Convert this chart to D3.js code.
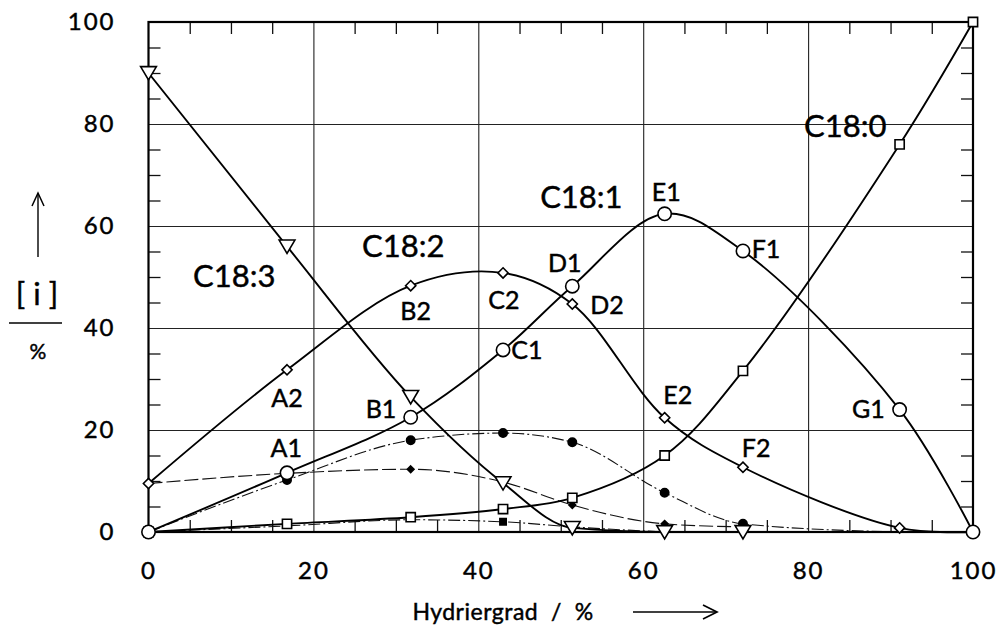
<!DOCTYPE html>
<html><head><meta charset="utf-8">
<script src="https://cdn.jsdelivr.net/npm/d3@7"></script>
<style>
html,body{margin:0;padding:0;background:#fff;}
svg{display:block;font-family:Lato,"Open Sans",sans-serif;}
</style></head>
<body><svg id="chart" width="1005" height="629"></svg>
<script>
// ---- data ----
const hydrierGrad = [0, 16.8, 31.8, 43, 51.4, 62.6, 72.1, 91.1, 100];
const c183 = [90, 56, 26.5, 9.6, 0.8, 0, 0, 0, 0];
const c182 = [9.5, 31.8, 48.3, 50.8, 44.7, 22.4, 12.7, 0.8, 0];
const c181 = [0, 11.6, 22.5, 35.7, 48.2, 62.4, 55.1, 24.0, 0];
const c180 = [0, 1.6, 2.9, 4.5, 6.7, 15.0, 31.6, 76, 100];
// secondary (thin dashed) series
const xFilledCircle = [0, 16.8, 31.8, 43, 51.4, 62.6, 72.1, 91.1];
const filledCircle = [0, 10.2, 18.0, 19.4, 17.6, 7.7, 1.6, 0];
const xFilledDiamond = [0, 16.8, 31.8, 43, 51.4, 62.6, 72.1];
const filledDiamond = [9.5, 11.5, 12.3, 9.8, 5.3, 1.6, 1.0];
const xFilledSquare = [0, 16.8, 31.8, 43, 51.4, 62.6];
const filledSquare = [0, 1.2, 2.4, 2.0, 1.0, 0];
const filledCircleMarkers = [16.8, 31.8, 43, 51.4, 62.6, 72.1];
const filledDiamondMarkers = [31.8, 51.4, 62.6];
const filledSquareMarkers = [43];
const xTicks = [0, 20, 40, 60, 80, 100];
const yTicks = [0, 20, 40, 60, 80, 100];
const seriesLabels = [
  {t:"C18:3", x:10.4, y:50.4}, {t:"C18:2", x:30.9, y:56.3},
  {t:"C18:1", x:52.5, y:65.9}, {t:"C18:0", x:84.5, y:79.8}
];
const pointLabels = [
  {t:"A1", x:16.7, y:16.7}, {t:"A2", x:16.8, y:26.5},
  {t:"B1", x:28.2, y:24.3}, {t:"B2", x:32.4, y:43.5},
  {t:"C1", x:45.9, y:35.9}, {t:"C2", x:43.1, y:45.7},
  {t:"D1", x:50.5, y:52.9}, {t:"D2", x:55.6, y:44.7},
  {t:"E1", x:62.8, y:66.9}, {t:"E2", x:64.2, y:27.1},
  {t:"F1", x:74.9, y:55.7}, {t:"F2", x:73.7, y:16.7},
  {t:"G1", x:87.3, y:24.3}
];

// ---- layout ----
const svg = d3.select("#chart");
const X0 = 148.5, X1 = 973, Y0 = 532, Y1 = 22;
const x = d3.scaleLinear().domain([0,100]).range([X0,X1]);
const y = d3.scaleLinear().domain([0,100]).range([Y0,Y1]);
svg.append("rect").attr("width",1005).attr("height",629).attr("fill","#fff");
const FONT = "Lato,sans-serif";

// gridlines
const grid = svg.append("g").attr("transform",`translate(0,${Y0})`)
  .call(d3.axisBottom(x).tickValues([20,40,60,80]).tickSize(-(Y0-Y1)).tickFormat(""));
grid.select(".domain").remove();
grid.selectAll("line").attr("stroke","#222").attr("stroke-width",1.1);
const gridY = svg.append("g").attr("transform",`translate(${X0},0)`)
  .call(d3.axisLeft(y).tickValues([20,40,60,80]).tickSize(-(X1-X0)).tickFormat(""));
gridY.select(".domain").remove();
gridY.selectAll("line").attr("stroke","#222").attr("stroke-width",1.1);

// minor ticks (inward)
const minor = d3.range(5,100,5).filter(v => v % 20 !== 0);
function styleMinor(g){ g.select(".domain").remove(); g.selectAll("line").attr("stroke","#111").attr("stroke-width",1.3); }
svg.append("g").attr("transform",`translate(0,${Y0})`).call(d3.axisTop(x).tickValues(minor).tickSize(12).tickFormat("")).call(styleMinor);
svg.append("g").attr("transform",`translate(0,${Y1})`).call(d3.axisBottom(x).tickValues(minor).tickSize(12).tickFormat("")).call(styleMinor);
svg.append("g").attr("transform",`translate(${X0},0)`).call(d3.axisRight(y).tickValues(minor).tickSize(12).tickFormat("")).call(styleMinor);
svg.append("g").attr("transform",`translate(${X1},0)`).call(d3.axisLeft(y).tickValues(minor).tickSize(12).tickFormat("")).call(styleMinor);

// frame
svg.append("rect").attr("x",X0).attr("y",Y1).attr("width",X1-X0).attr("height",Y0-Y1)
  .attr("fill","none").attr("stroke","#000").attr("stroke-width",2.2);

// tick labels
function styleText(sel, size){
  sel.attr("font-size",size).attr("font-family",FONT).attr("fill","#000")
     .attr("stroke","#000").attr("stroke-width",0.45);
}
const xa = svg.append("g").attr("transform",`translate(0,${Y0})`)
  .call(d3.axisBottom(x).tickValues(xTicks).tickSize(0).tickPadding(30));
xa.select(".domain").remove();
xa.selectAll("text").call(styleText, 24).attr("letter-spacing","2px");
const ya = svg.append("g").attr("transform",`translate(${X0},0)`)
  .call(d3.axisLeft(y).tickValues(yTicks).tickSize(0).tickPadding(33));
ya.select(".domain").remove();
ya.selectAll("text").call(styleText, 24).attr("letter-spacing","2px");

// lines
function lineFor(xs, curve){
  return d3.line().x((d,i)=>x(xs[i])).y(d=>y(d)).curve(curve);
}
const g = svg.append("g");
// secondary dashed series
g.append("path").attr("d", lineFor(xFilledCircle, d3.curveMonotoneX)(filledCircle))
  .attr("fill","none").attr("stroke","#111").attr("stroke-width",1.1).attr("stroke-dasharray","12,3,2,3");
g.append("path").attr("d", lineFor(xFilledDiamond, d3.curveMonotoneX)(filledDiamond))
  .attr("fill","none").attr("stroke","#111").attr("stroke-width",1.1).attr("stroke-dasharray","14,4");
g.append("path").attr("d", lineFor(xFilledSquare, d3.curveMonotoneX)(filledSquare))
  .attr("fill","none").attr("stroke","#111").attr("stroke-width",1.1).attr("stroke-dasharray","12,3,2,3");
// main series
g.append("path").attr("d", lineFor(hydrierGrad, d3.curveMonotoneX)(c183)).attr("fill","none").attr("stroke","#000").attr("stroke-width",1.9);
g.append("path").attr("d", lineFor(hydrierGrad, d3.curveCatmullRom.alpha(0.5))(c182)).attr("fill","none").attr("stroke","#000").attr("stroke-width",1.9);
g.append("path").attr("d", lineFor(hydrierGrad, d3.curveCatmullRom.alpha(0.5))(c181)).attr("fill","none").attr("stroke","#000").attr("stroke-width",1.9);
g.append("path").attr("d", lineFor(hydrierGrad, d3.curveCatmullRom.alpha(0.5))(c180)).attr("fill","none").attr("stroke","#000").attr("stroke-width",1.9);

// markers
function markers(xs, ys, type, size, filled){
  g.append("g").selectAll("path").data(ys).join("path")
    .attr("transform",(d,i)=>`translate(${x(xs[i])},${y(d)})`)
    .attr("d", d3.symbol().type(type).size(size)())
    .attr("fill", filled ? "#000" : "#fff").attr("stroke","#000").attr("stroke-width",1.6);
}
const triDown = { draw(ctx, size){ const s=Math.sqrt(size)*0.9; ctx.moveTo(-s*0.62,-s*0.5); ctx.lineTo(s*0.62,-s*0.5); ctx.lineTo(0,s*0.55); ctx.closePath(); } };
const diamondSym = { draw(ctx, size){ const s=Math.sqrt(size)/2; ctx.moveTo(0,-s*1.05); ctx.lineTo(s*1.05,0); ctx.lineTo(0,s*1.05); ctx.lineTo(-s*1.05,0); ctx.closePath(); } };
markers(xFilledCircle.filter(v=>filledCircleMarkers.includes(v)), filledCircle.filter((v,i)=>filledCircleMarkers.includes(xFilledCircle[i])), d3.symbolCircle, 55, true);
markers(xFilledDiamond.filter(v=>filledDiamondMarkers.includes(v)), filledDiamond.filter((v,i)=>filledDiamondMarkers.includes(xFilledDiamond[i])), diamondSym, 40, true);
markers(xFilledSquare.filter(v=>filledSquareMarkers.includes(v)), filledSquare.filter((v,i)=>filledSquareMarkers.includes(xFilledSquare[i])), d3.symbolSquare, 40, true);
markers(hydrierGrad, c180, d3.symbolSquare, 85, false);
markers(hydrierGrad, c182, diamondSym, 95, false);
markers(hydrierGrad, c181, d3.symbolCircle, 140, false);
markers(hydrierGrad.slice(0,7), c183.slice(0,7), triDown, 200, false);

// text labels
svg.append("g").selectAll("text").data(seriesLabels).join("text")
  .attr("x",d=>x(d.x)).attr("y",d=>y(d.y)).attr("text-anchor","middle").attr("dominant-baseline","central")
  .call(styleText, 31).text(d=>d.t);
svg.append("g").selectAll("text").data(pointLabels).join("text")
  .attr("x",d=>x(d.x)).attr("y",d=>y(d.y)).attr("text-anchor","middle").attr("dominant-baseline","central")
  .call(styleText, 25).text(d=>d.t);

// axis titles
svg.append("text").attr("x",503).attr("y",611).attr("text-anchor","middle").attr("dominant-baseline","central")
  .call(styleText, 23).attr("xml:space","preserve").attr("letter-spacing","0.5px").text("Hydriergrad  /  %");
svg.append("line").attr("x1",633).attr("x2",716).attr("y1",612).attr("y2",612).attr("stroke","#000").attr("stroke-width",1.3);
svg.append("path").attr("d","M703,605 L717,612 L703,619").attr("fill","none").attr("stroke","#000").attr("stroke-width",1.7);
// y title
svg.append("line").attr("x1",38).attr("x2",38).attr("y1",257).attr("y2",194).attr("stroke","#000").attr("stroke-width",1.4);
svg.append("path").attr("d","M32,206 L38,193 L44,206").attr("fill","none").attr("stroke","#000").attr("stroke-width",1.5);
svg.append("text").attr("x",37).attr("y",293).attr("text-anchor","middle").attr("dominant-baseline","central")
  .call(styleText, 31).attr("xml:space","preserve").text("[ i ]");
svg.append("line").attr("x1",9).attr("x2",62).attr("y1",323).attr("y2",323).attr("stroke","#000").attr("stroke-width",1.6);
svg.append("text").attr("x",38).attr("y",350).attr("text-anchor","middle").attr("dominant-baseline","central")
  .call(styleText, 21).text("%");
</script></body></html>
